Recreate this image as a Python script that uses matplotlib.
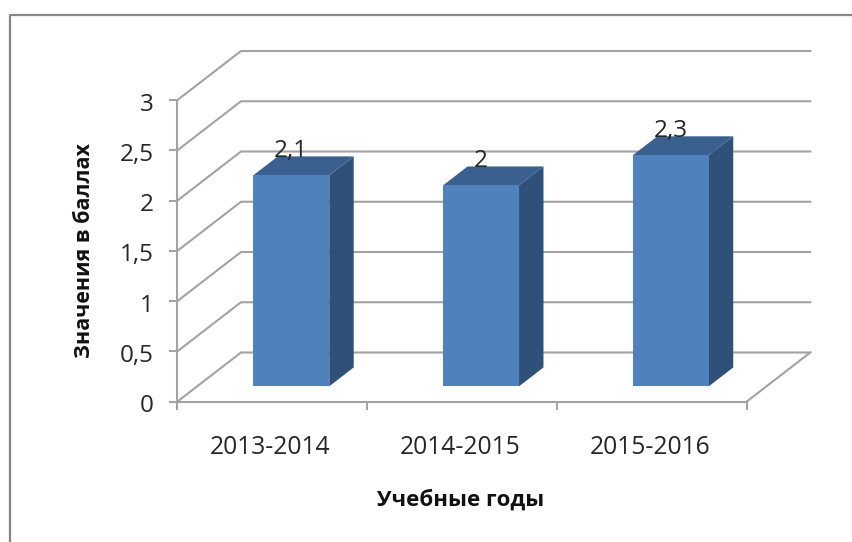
#!/usr/bin/env python
# -*- coding: utf-8 -*-

import matplotlib
matplotlib.use('Agg')
import matplotlib.pyplot as plt
from matplotlib.lines import Line2D
from matplotlib.patches import Polygon
from matplotlib.transforms import ScaledTranslation

#### Data

years = ['2013-2014', '2014-2015', '2015-2016']
values = [2.1, 2.0, 2.3]
value_labels = ['2,1', '2', '2,3']
y_ticks = [0, 0.5, 1, 1.5, 2, 2.5, 3]
y_tick_labels = ['0', '0,5', '1', '1,5', '2', '2,5', '3']

#### Sizes, pixels of the 853x542 picture

W, H = 853.0, 542.0
LEFT, RIGHT = 177.5, 746.8
BOTTOM, TOP = 401.5, 100.0

# depth of the 3d box in data units
DX = 63.5 / ((RIGHT - LEFT) / 3.0)
DY = 49.0 / ((BOTTOM - TOP) / 3.0)

BAR_WIDTH = 0.40
BAR_CENTER = 0.496
BAR_D0 = 0.31
BAR_D1 = 0.695

GREY = '#a3a3a3'
FRONT = '#4f81bd'
SIDE = '#2f5078'
CAP = '#3a6090'
TEXT = '#262626'


def proj(x, y, d):
    """Front plane point pushed back by depth d (0..1)"""
    return (x + d * DX, y + d * DY)


plt.rcParams['font.family'] = ['Open Sans', 'DejaVu Sans']

fig = plt.figure(figsize=(W / 100, H / 100), dpi=100)
ax = fig.add_axes([LEFT / W, 1 - BOTTOM / H, (RIGHT - LEFT) / W, (BOTTOM - TOP) / H])
ax.set_xlim(0, 3)
ax.set_ylim(0, 3)
ax.patch.set_visible(False)

# outer chart frame, open at right and bottom
fig.add_artist(Line2D([9.5 / W, 9.5 / W, 1], [0, 1 - 14.5 / H, 1 - 14.5 / H],
                      color='#868686', lw=1.6))

# walls
for y in y_ticks:
    a = proj(0, y, 0)
    b = proj(0, y, 1)
    c = proj(3, y, 1)
    ax.plot([a[0], b[0], c[0]], [a[1], b[1], c[1]], color=GREY, lw=1.5,
            clip_on=False, zorder=1, solid_joinstyle='miter')
a = proj(3, 0, 0)
b = proj(3, 0, 1)
ax.plot([a[0], b[0]], [a[1], b[1]], color=GREY, lw=1.5, clip_on=False, zorder=1)

# bars
for i, v in enumerate(values):
    x0 = i + BAR_CENTER - BAR_WIDTH / 2
    x1 = i + BAR_CENTER + BAR_WIDTH / 2
    front = [proj(x0, 0, BAR_D0), proj(x1, 0, BAR_D0), proj(x1, v, BAR_D0), proj(x0, v, BAR_D0)]
    side = [proj(x1, 0, BAR_D0), proj(x1, 0, BAR_D1), proj(x1, v, BAR_D1), proj(x1, v, BAR_D0)]
    cap = [proj(x0, v, BAR_D0), proj(x1, v, BAR_D0), proj(x1, v, BAR_D1), proj(x0, v, BAR_D1)]
    ax.add_patch(Polygon(side, closed=True, fc=SIDE, ec='none', clip_on=False, zorder=2))
    ax.add_patch(Polygon(cap, closed=True, fc=CAP, ec='none', clip_on=False, zorder=2))
    ax.add_patch(Polygon(front, closed=True, fc=FRONT, ec='none', clip_on=False, zorder=3))
    lx, ly = proj(i + BAR_CENTER, v, BAR_D0)
    ax.text(lx, ly + 0.245, value_labels[i], ha='center', va='center', fontsize=17.5,
            color=TEXT, zorder=4, clip_on=False)

# axes
for name in ['top', 'right']:
    ax.spines[name].set_visible(False)
for name in ['left', 'bottom']:
    ax.spines[name].set_color(GREY)
    ax.spines[name].set_linewidth(1.5)
ax.set_yticks(y_ticks)
ax.set_yticklabels(y_tick_labels)
ax.set_xticks([0, 1, 2, 3])
ax.set_xticklabels([])
ax.set_xticks([0.49, 1.49, 2.49], minor=True)
ax.set_xticklabels(years, minor=True)
ax.tick_params(axis='both', which='major', color=GREY, width=1.5, length=6)
ax.tick_params(axis='y', labelsize=17.5, labelcolor=TEXT, pad=11)
ax.tick_params(axis='x', which='minor', length=0, labelsize=17.7, labelcolor=TEXT, pad=24)

# y labels sit a little low in the reference
down = ScaledTranslation(0, -1.5 / 100, fig.dpi_scale_trans)
for lab in ax.get_yticklabels():
    lab.set_transform(lab.get_transform() + down)

fig.text(84.5 / W, 1 - 251 / H, 'Значения в баллах', rotation=90, ha='center', va='center',
         fontsize=15.5, fontweight='bold', color='#111111')
fig.text(461 / W, 1 - 500 / H, 'Учебные годы', ha='center', va='center',
         fontsize=16, fontweight='bold', color='#111111')

fig.savefig('out.png', dpi=100)
plt.close(fig)
